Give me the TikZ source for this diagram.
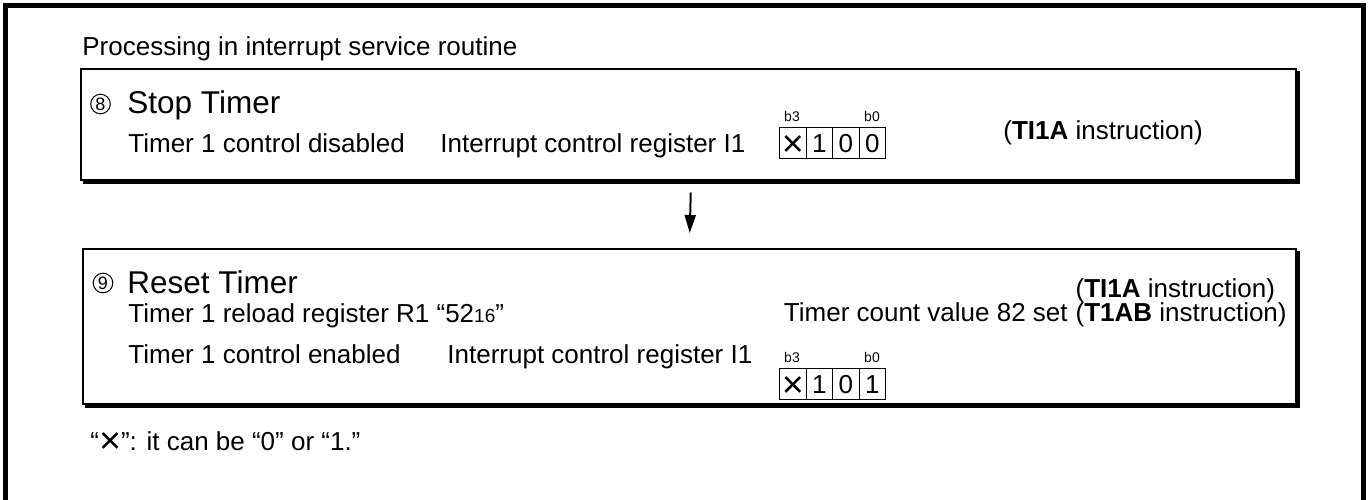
\documentclass[tikz,border=0pt]{standalone}
\usepackage{fontspec}
\setmainfont{Liberation Sans}
\usetikzlibrary{arrows.meta}
\newcommand{\crossmark}{\raisebox{-0.15em}{\scalebox{1.45}{×}}}
\begin{document}
\begin{tikzpicture}[x=0.5pt,y=-0.5pt,
  txt/.style={anchor=base west, inner sep=0pt, font=\fontsize{13}{15}\selectfont},
  big/.style={anchor=base west, inner sep=0pt, font=\fontsize{15.75}{18}\selectfont},
  circ/.style={circle, draw, line width=0.5pt, minimum size=9.8pt, inner sep=0pt, font=\fontsize{9}{10}\selectfont},
  bit/.style={anchor=base, inner sep=0pt, font=\fontsize{7}{8}\selectfont},
  cell/.style={draw, line width=0.6pt, minimum width=13.25pt, minimum height=15.5pt, inner sep=0pt, text height=9.4pt, text depth=0pt, anchor=north west, font=\fontsize{13}{15}\selectfont},
  panel/.style={draw, line width=0.75pt, inner sep=0pt, anchor=north west},
  shadowline/.style={line width=1.5pt},
  frameline/.style={line width=2.5pt},
  arr/.style={line width=1pt, -{Triangle[length=9pt,width=5.5pt]}}
]
\useasboundingbox (0,0) rectangle (1370,499);
% outer frame
\draw[frameline] (5.5,510) -- (5.5,5) -- (1363.5,5) -- (1363.5,510);

% panel 1
\node[panel, minimum width=607.5pt, minimum height=55.5pt] (box1) at (80,68) {};
\draw[shadowline] ([shift={(3,1.5)}]box1.south west) -- ([shift={(1.5,1.5)}]box1.south east) -- ([shift={(1.5,3)}]box1.north east);
% panel 2
\node[panel, minimum width=606.5pt, minimum height=77.5pt] (box2) at (82,248) {};
\draw[shadowline] ([shift={(3,1.5)}]box2.south west) -- ([shift={(1.5,1.5)}]box2.south east) -- ([shift={(1.5,3)}]box2.north east);

% arrow
\draw[arr] ([xshift=1.25pt,yshift=-6pt]box1.south) -- ([xshift=0.25pt,yshift=7.5pt]box2.north);

% texts
\node[txt] (title) at (82,55) {Processing in interrupt service routine};

\node[circ] (c8) at (100.5,104) {8};
\node[big] (s8) at (127,113) {Stop Timer};
\node[txt] (d8) at (128,152) {Timer 1 control disabled};
\node[txt] (r8) at (440,152) {Interrupt control register I1};
\node[cell] (a3) at (779,127) {\crossmark};
\node[cell] (a2) at (805.5,127) {1};
\node[cell] (a1) at (832,127) {0};
\node[cell] (a0) at (858.5,127) {0};
\node[bit] (ab3) at (792,121) {b3};
\node[bit] (ab0) at (872,121) {b0};
\node[txt] (i8) at (1003,139) {(\textbf{TI1A} instruction)};

\node[circ] (c9) at (103,283) {9};
\node[big] (s9) at (127,293) {Reset Timer};
\node[txt] (l9) at (128,322) {Timer 1 reload register R1 “52{\fontsize{9.5}{11}\selectfont 16}”};
\node[txt] (d9) at (128,363) {Timer 1 control enabled};
\node[txt] (r9) at (447,363) {Interrupt control register I1};
\node[cell] (e3) at (779,368) {\crossmark};
\node[cell] (e2) at (805.5,368) {1};
\node[cell] (e1) at (832,368) {0};
\node[cell] (e0) at (858.5,368) {1};
\node[bit] (eb3) at (792,362) {b3};
\node[bit] (eb0) at (872,362) {b0};
\node[txt, anchor=base east] (tb) at (1287,321) {(\textbf{T1AB} instruction)};
\node[txt, anchor=base east, xshift=-3.6pt] (tc) at (tb.base west) {Timer count value 82 set};
\node[txt] (ta) at ([yshift=12pt]tb.base west) {(\textbf{TI1A} instruction)};

\node[txt] (fn) at (90,450) {“\crossmark”: it can be “0” or “1.”};
\end{tikzpicture}
\end{document}
